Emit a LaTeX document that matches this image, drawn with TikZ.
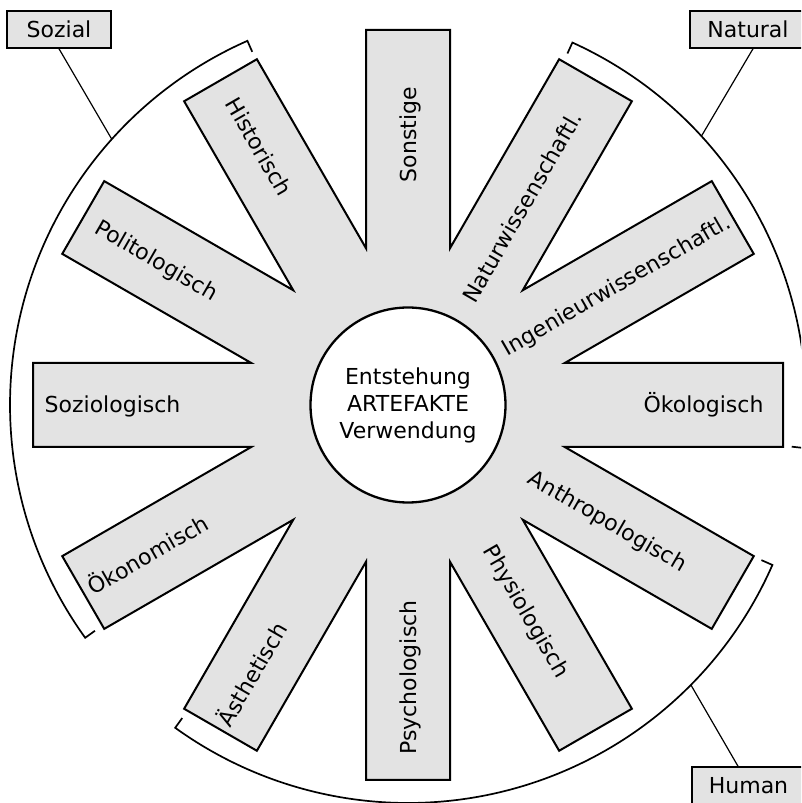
\documentclass[tikz,border=0pt]{standalone}
\usepackage{fontspec}
\setmainfont{DejaVu Sans}
\usetikzlibrary{calc}
\definecolor{spokegray}{gray}{0.89}
\begin{document}
\begin{tikzpicture}[x=1pt,y=1pt,
  lbl/.style={inner sep=0pt, text height=16pt, text depth=0pt, font=\fontsize{22}{26}\selectfont},
  catbox/.style={draw, fill=spokegray, line width=1.5pt, minimum height=37pt, inner sep=0pt,
                 text height=16pt, text depth=0pt, font=\fontsize{22}{26}\selectfont},
  bracket/.style={line width=1.7pt, line join=miter},
  conn/.style={line width=1.2pt}]
\clip (0,0) rectangle (801,803);
\fill[white] (0,0) rectangle (801,803);
\coordinate (C) at (408,398);
% star of twelve spokes
\draw[fill=spokegray, line width=2pt, line join=miter]
  ($(C)+(-15:162.28)$)
  \foreach \t in {0,30,...,330} {
    -- ($(C)+(\t:375)+(\t-90:42)$)
    -- ($(C)+(\t:375)+(\t+90:42)$)
    -- ($(C)+(\t+15:162.28)$)
  } -- cycle;
% centre
\node[circle, draw, fill=white, line width=2.3pt, minimum size=195pt, inner sep=0pt,
      align=center, font=\fontsize{22}{27}\selectfont] (core) at (C)
      {Entstehung\\ARTEFAKTE\\Verwendung};
% spoke labels
\node[lbl, rotate=90]  (sonstige) at ($(C)+(90:270.5)$)  {Sonstige};
\node[lbl, rotate=60]  (natw)     at ($(C)+(60:228.5)$)  {Naturwissenschaftl.};
\node[lbl, rotate=30]  (ingw)     at ($(C)+(30:240)$)    {Ingenieurwissenschaftl.};
\node[lbl]             (oekol)    at ($(C)+(0:295.5)$)   {Ökologisch};
\node[lbl, rotate=-30] (anthro)   at ($(C)+(-30:231)$)   {Anthropologisch};
\node[lbl, rotate=-60] (physio)   at ($(C)+(-60:238)$)   {Physiologisch};
\node[lbl, rotate=90]  (psycho)   at ($(C)+(-90:272.5)$) {Psychologisch};
\node[lbl, rotate=60]  (aesth)    at ($(C)+(-120:311)$)  {Ästhetisch};
\node[lbl, rotate=30]  (oekon)    at ($(C)+(-150:300)$)  {Ökonomisch};
\node[lbl]             (sozio)    at ($(C)+(180:295.5)$) {Soziologisch};
\node[lbl, rotate=-30] (polit)    at ($(C)+(150:290)$)   {Politologisch};
\node[lbl, rotate=-60] (hist)     at ($(C)+(120:298)$)   {Historisch};
% brackets
\draw[bracket] ($(C)+(113.8:386)$) -- ($(C)+(113.8:398)$)
   arc[start angle=113.8, end angle=215.8, radius=398] -- ($(C)+(215.8:386)$);
\draw[bracket] ($(C)+(65.6:386)$) -- ($(C)+(65.6:398)$)
   arc[start angle=65.6, end angle=-6.2, radius=398] -- ($(C)+(-6.2:386)$);
\draw[bracket] ($(C)+(-125.8:386)$) -- ($(C)+(-125.8:398)$)
   arc[start angle=-125.8, end angle=-23.7, radius=398] -- ($(C)+(-23.7:386)$);
\coordinate (sozarc) at ($(C)+(138.1:398)$);
\coordinate (natarc) at ($(C)+(42.5:398)$);
\coordinate (humarc) at ($(C)+(-44.7:398)$);
% category boxes
\node[catbox, minimum width=104pt] (sozial)  at (59,773.5)  {Sozial};
\node[catbox, minimum width=116pt] (natural) at (748,773.5) {Natural};
\node[catbox, minimum width=113pt] (human)   at (748.5,17.5) {Human};
\draw[conn] (sozial.south) -- (sozarc);
\draw[conn] ([xshift=5pt]natural.south) -- (natarc);
\draw[conn] ([xshift=-10.5pt]human.north) -- (humarc);
\end{tikzpicture}
\end{document}
